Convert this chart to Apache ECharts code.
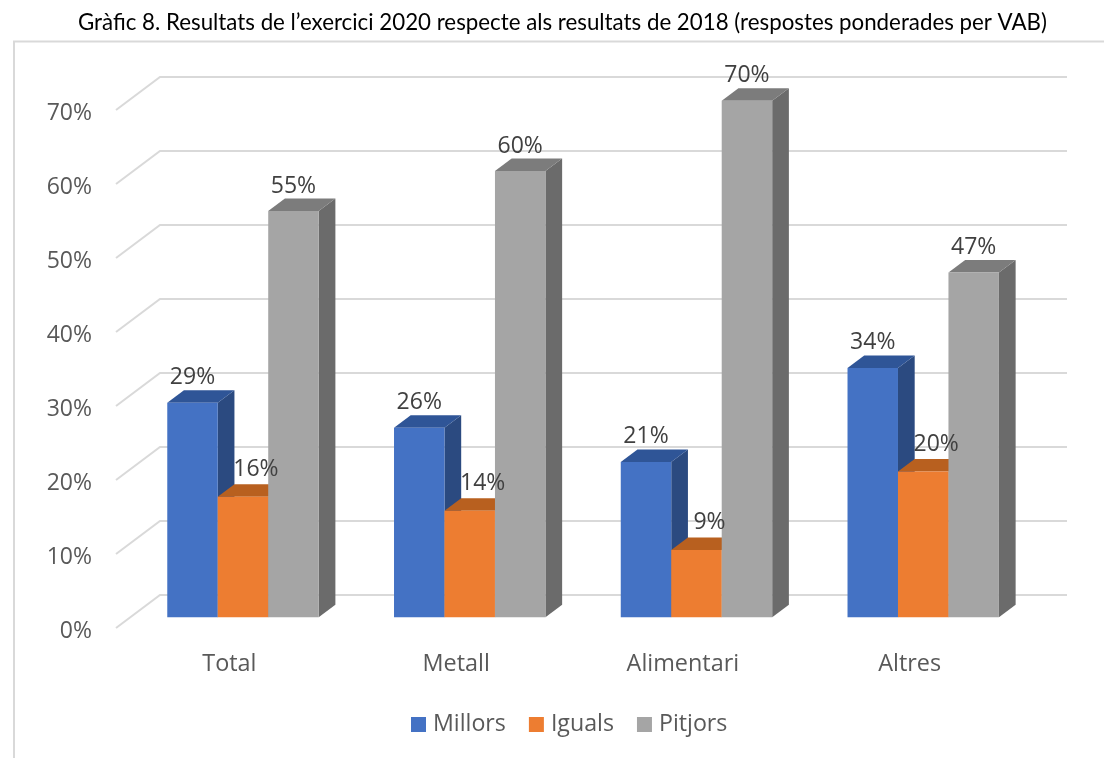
<!DOCTYPE html>
<html>
<head>
<meta charset="utf-8">
<style>html,body{margin:0;padding:0;background:#fff}#c{width:1104px;height:758px}</style>
<script src="https://cdn.jsdelivr.net/npm/echarts@6/dist/echarts.min.js"></script>
</head>
<body>
<div id="c"></div>
<script>
const titleText = "Gràfic 8. Resultats de l’exercici 2020 respecte als resultats de 2018 (respostes ponderades per VAB)";
const categories = ["Total", "Metall", "Alimentari", "Altres"];
const millors = [29, 25.6, 21, 33.7];
const iguals = [16.3, 14.4, 9.1, 19.7];
const pitjors = [54.9, 60.3, 69.8, 46.6];
const millorsLabels = ["29%", "26%", "21%", "34%"];
const igualsLabels = ["16%", "14%", "9%", "20%"];
const pitjorsLabels = ["55%", "60%", "70%", "47%"];
const yTicks = [0, 10, 20, 30, 40, 50, 60, 70];

const FONT = "'Open Sans'";
const WALL_DX = 44, WALL_DY = 33;       // floor depth of the 3D box
const BAR_DX = 13.6, BAR_DY = 10.7;     // bars stand this far into the floor
const SIDE_DX = 16.7, SIDE_DY = 12.5;   // depth of each bar
const BAR_FRAC = 0.2226;                // bar width as a share of the band

function barGeom(api, slot) {
  const idx = api.value(0), val = api.value(1);
  const band = api.size([1, 0])[0];
  const w = band * BAR_FRAC;
  const base = api.coord([idx, 0]);
  const head = api.coord([idx, val]);
  const x0 = base[0] + BAR_DX + (slot - 1.5) * w;
  return { x0, x1: x0 + w, w, yb: base[1] - BAR_DY, yt: head[1] - BAR_DY };
}

function barSeries(name, values, slot, front, top, side, z) {
  return {
    name, type: 'custom', coordinateSystem: 'cartesian2d', z, clip: false,
    itemStyle: { color: front },
    encode: { x: 0, y: 1 },
    data: values.map((v, i) => [i, v]),
    renderItem: function (params, api) {
      const g = barGeom(api, slot);
      return {
        type: 'group',
        children: [
          { type: 'polygon', shape: { points: [[g.x1, g.yt], [g.x1 + SIDE_DX, g.yt - SIDE_DY], [g.x1 + SIDE_DX, g.yb - SIDE_DY], [g.x1, g.yb]] }, style: { fill: side } },
          { type: 'polygon', shape: { points: [[g.x0, g.yt], [g.x0 + SIDE_DX, g.yt - SIDE_DY], [g.x1 + SIDE_DX, g.yt - SIDE_DY], [g.x1, g.yt]] }, style: { fill: top } },
          { type: 'rect', shape: { x: g.x0, y: g.yt, width: g.w, height: g.yb - g.yt }, style: { fill: front } }
        ]
      };
    }
  };
}

function labelSeries(name, values, slot, labels, labelDx, labelDy) {
  return {
    name, type: 'custom', coordinateSystem: 'cartesian2d', z: 10, clip: false, silent: true,
    encode: { x: 0, y: 1 },
    data: values.map((v, i) => [i, v]),
    renderItem: function (params, api) {
      const g = barGeom(api, slot);
      return {
        type: 'text',
        style: { text: labels[params.dataIndex], x: g.x0 + g.w / 2 + labelDx, y: g.yt - SIDE_DY + labelDy, align: 'center', verticalAlign: 'middle', font: "23px " + FONT, fill: '#404040' }
      };
    }
  };
}

const chart = echarts.init(document.getElementById('c'));
chart.setOption({
  animation: false,
  backgroundColor: '#ffffff',
  title: {
    text: titleText, left: 78, top: 12, padding: 0,
    textStyle: { fontFamily: 'Lato', fontWeight: 'normal', fontSize: 22.3, color: '#000000' }
  },
  graphic: [{
    type: 'polyline', z: -1, silent: true,
    shape: { points: [[14, 758], [14, 41.5], [1104, 41.5]] },
    style: { stroke: '#d9d9d9', lineWidth: 2, fill: 'none' }
  }],
  grid: { left: 116, top: 110, width: 907, height: 518, containLabel: false },
  xAxis: {
    type: 'category', data: categories,
    axisLine: { show: false }, axisTick: { show: false },
    axisLabel: { margin: 25, color: '#595959', fontFamily: FONT, fontSize: 23.4 }
  },
  yAxis: {
    type: 'value', min: 0, max: 70, interval: 10,
    splitLine: { show: false }, axisLine: { show: false }, axisTick: { show: false },
    axisLabel: {
      margin: 24, formatter: '{t|{value}%}',
      rich: { t: { color: '#595959', fontFamily: FONT, fontSize: 23, padding: [6, 0, 0, 0] } }
    }
  },
  legend: {
    data: ['Millors', 'Iguals', 'Pitjors'],
    left: 411, top: 713, padding: 0, itemWidth: 15, itemHeight: 15, itemGap: 23,
    icon: 'rect',
    textStyle: { color: '#595959', fontFamily: FONT, fontSize: 23.2, padding: [0, 0, 0, 2] }
  },
  series: [
    {
      name: 'walls', type: 'custom', coordinateSystem: 'cartesian2d', z: 1, clip: false, silent: true,
      encode: { y: 1 },
      data: yTicks.map(t => [0, t]),
      renderItem: function (params, api) {
        const p = api.coord([0, api.value(1)]);
        const cs = params.coordSys;
        return {
          type: 'polyline',
          shape: { points: [[cs.x, p[1]], [cs.x + WALL_DX, p[1] - WALL_DY], [cs.x + cs.width + WALL_DX, p[1] - WALL_DY]] },
          style: { stroke: '#d9d9d9', lineWidth: 2, fill: 'none' }
        };
      }
    },
    barSeries('Millors', millors, 0, '#4472C4', '#2F5597', '#2B4A80', 2),
    barSeries('Iguals', iguals, 1, '#ED7D31', '#B8601F', '#B8601F', 3),
    barSeries('Pitjors', pitjors, 2, '#A5A5A5', '#7C7C7C', '#6B6B6B', 4),
    labelSeries('labels-millors', millors, 0, millorsLabels, 0, -13),
    labelSeries('labels-iguals', iguals, 1, igualsLabels, 13, -15),
    labelSeries('labels-pitjors', pitjors, 2, pitjorsLabels, 0, -12.5)
  ]
});
</script>
</body>
</html>
